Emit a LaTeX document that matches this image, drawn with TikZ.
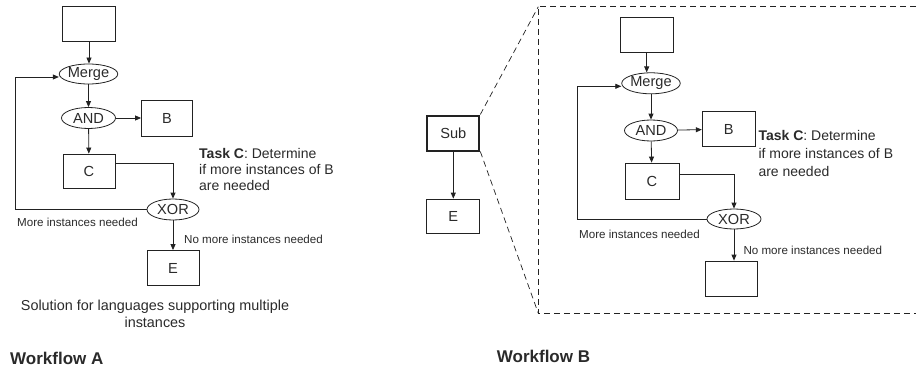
\documentclass[tikz,border=0pt]{standalone}
\usepackage{fontspec}
\setmainfont{Liberation Sans}
\usetikzlibrary{shapes.geometric,arrows.meta}
\definecolor{linec}{HTML}{222222}
\definecolor{textc}{HTML}{2A2A2A}
\newcommand{\nodefont}{\fontsize{14.6}{17}\selectfont}
\newcommand{\smallfnt}{\fontsize{11.6}{13}\selectfont}
\newcommand{\taskfnt}{\fontsize{14}{16}\selectfont}
\newcommand{\taskfntB}{\fontsize{14}{18}\selectfont}
\newcommand{\titlefnt}{\fontsize{17}{19}\selectfont\bfseries}
\tikzset{
  box/.style={draw=linec, line width=0.8pt, minimum width=53pt, minimum height=35pt, inner sep=0pt, font=\nodefont, text=textc},
  oval/.style={ellipse, draw=linec, line width=0.8pt, minimum width=54pt, minimum height=21pt, inner sep=0pt, font=\nodefont, text=textc},
  arr/.style={draw=linec, line width=0.8pt, -{Triangle[length=6pt,width=5pt]}},
  lbl/.style={font=\smallfnt, text=textc, inner sep=0pt, anchor=west},
  tasktxt/.style={text=textc, inner sep=0pt, anchor=north west, align=left},
  title/.style={font=\titlefnt, text=textc, inner sep=0pt, anchor=west},
  dashline/.style={draw=linec, line width=0.7pt, dash pattern=on 6pt off 4pt},
}
\begin{document}
\begin{tikzpicture}[x=1pt,y=1pt]
\useasboundingbox (0,0) rectangle (919,-369);
% ---------------- Workflow A ----------------
\node[box] (topA) at (89,-24) {};
\node[oval, minimum height=20pt] (mergeA) at (88.5,-74) {Merge};
\node[oval] (andA) at (88.5,-118) {AND};
\node[box, minimum width=51pt, minimum height=36pt] (bA) at (167,-118) {B};
\node[box, minimum width=52pt, minimum height=34pt] (cA) at (89,-171) {C};
\node[oval, minimum width=52pt] (xorA) at (173,-209.5) {XOR};
\node[box, minimum width=52pt] (eA) at (173,-268) {E};
\coordinate (loopA) at (15,-209.5);
\draw[arr] (topA) -- (topA |- mergeA.north);
\draw[arr] (mergeA) -- (andA);
\draw[arr] (andA) -- (bA);
\draw[arr] (andA) -- (cA);
\draw[arr] ([yshift=8pt]cA.east) -| (xorA.north);
\draw[arr] (xorA.west) -- (loopA) |- ([yshift=-3pt]mergeA.west);
\draw[arr] (xorA) -- (eA);
\node[lbl] (moreA) at (17,-222) {More instances needed};
\node[lbl] (nomoreA) at (184,-239) {No more instances needed};
\node[tasktxt, font=\taskfnt] (taskA) at (199,-148.5) {\textbf{Task C}: Determine\\if more instances of B\\are needed};
\node[text=textc, inner sep=0pt, align=center, font=\fontsize{14.4}{16.7}\selectfont] (solA) at (155,-314) {Solution for languages supporting multiple\\instances};
\node[title] (wfA) at (10,-358) {Workflow A};
% ---------------- Workflow B ----------------
\node[box, line width=2pt, minimum width=52pt, minimum height=35pt] (sub) at (453.3,-133) {Sub};
\node[box, minimum height=34pt] (eB) at (453.3,-216) {E};
\draw[arr] (sub) -- (eB);
\coordinate (dTL) at (538.3,-6.7);
\coordinate (dBL) at (538.3,-313.3);
\coordinate (dTR) at (916,-6.7);
\coordinate (dBR) at (916,-313.3);
\draw[dashline] (dTR) -- (dTL) -- (dBL) -- (dBR);
\draw[dashline] (sub.north east) -- (dTL);
\draw[dashline] (sub.south east) -- (dBL);
\node[box] (topB) at (646.7,-35) {};
\node[oval, minimum width=55pt] (mergeB) at (651,-83.3) {Merge};
\node[oval, minimum width=53pt] (andB) at (651,-130.5) {AND};
\node[box] (bB) at (728.7,-129.2) {B};
\node[box, minimum width=54pt, minimum height=36pt] (cB) at (652,-181) {C};
\node[oval, minimum width=54pt, minimum height=20pt] (xorB) at (734,-219) {XOR};
\node[box, minimum width=52pt] (botB) at (731,-278.5) {};
\coordinate (loopB) at (577.7,-219);
\draw[arr] (topB) -- (topB |- mergeB.north);
\draw[arr] (mergeB) -- (andB);
\draw[arr] (andB) -- (bB);
\draw[arr] (andB) -- (cB);
\draw[arr] ([yshift=7pt]cB.east) -| (xorB.north);
\draw[arr] (xorB.west) -- (loopB) |- ([yshift=-3pt]mergeB.west);
\draw[arr] (xorB) -- (xorB |- botB.north);
\node[lbl] (moreB) at (579,-234) {More instances needed};
\node[lbl] (nomoreB) at (743.3,-250.7) {No more instances needed};
\node[tasktxt, font=\taskfntB] (taskB) at (758.3,-130) {\textbf{Task C}: Determine\\if more instances of B\\are needed};
\node[title] (wfB) at (496.7,-356) {Workflow B};
\end{tikzpicture}
\end{document}
